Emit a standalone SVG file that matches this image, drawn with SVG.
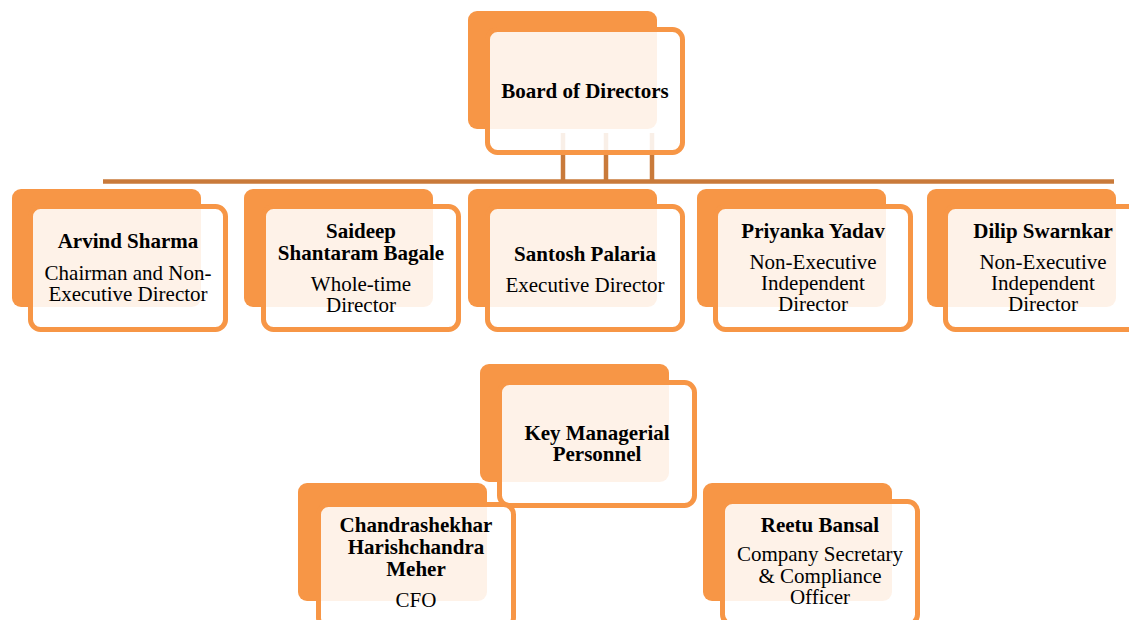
<svg xmlns="http://www.w3.org/2000/svg" width="1129" height="620" viewBox="0 0 1129 620">
<style>
.back{fill:#F79646;}
.front{fill:#FFFFFF;fill-opacity:0.88;stroke:#F79646;stroke-width:5;}
.conn{stroke:#C97A3A;stroke-width:4.5;fill:none;}
text{font-family:"Liberation Serif","Times New Roman",serif;font-size:21px;fill:#000;text-anchor:middle;}
.b{font-weight:bold;}
</style>
<rect width="1129" height="620" fill="#FFFFFF"/>
<g id="connectors">
<line class="conn" x1="103" y1="181.5" x2="1114" y2="181.5"/>
<line class="conn" x1="563" y1="133" x2="563" y2="181"/>
<line class="conn" x1="606" y1="133" x2="606" y2="181"/>
<line class="conn" x1="652" y1="133" x2="652" y2="181"/>
</g>
<g id="board">
<rect class="back" x="468" y="11" width="189" height="118" rx="9"/>
<rect class="front" x="487.5" y="29.5" width="195" height="123" rx="10"/>
<text class="b" x="585" y="98">Board of Directors</text>
</g>
<g id="arvind">
<rect class="back" x="12" y="189" width="189" height="118" rx="9"/>
<rect class="front" x="30.5" y="206.5" width="195" height="123" rx="10"/>
<text class="b" x="128" y="248">Arvind Sharma</text>
<text x="128" y="280">Chairman and Non-</text>
<text x="128" y="301">Executive Director</text>
</g>
<g id="saideep">
<rect class="back" x="244" y="189" width="189" height="118" rx="9"/>
<rect class="front" x="263.5" y="206.5" width="195" height="123" rx="10"/>
<text class="b" x="361" y="238">Saideep</text>
<text class="b" x="361" y="260">Shantaram Bagale</text>
<text x="361" y="291">Whole-time</text>
<text x="361" y="312">Director</text>
</g>
<g id="santosh">
<rect class="back" x="468" y="189" width="189" height="118" rx="9"/>
<rect class="front" x="487.5" y="206.5" width="195" height="123" rx="10"/>
<text class="b" x="585" y="261">Santosh Palaria</text>
<text x="585" y="292">Executive Director</text>
</g>
<g id="priyanka">
<rect class="back" x="697" y="189" width="189" height="118" rx="9"/>
<rect class="front" x="715.5" y="206.5" width="195" height="123" rx="10"/>
<text class="b" x="813" y="238">Priyanka Yadav</text>
<text x="813" y="269">Non-Executive</text>
<text x="813" y="290">Independent</text>
<text x="813" y="311">Director</text>
</g>
<g id="dilip">
<rect class="back" x="927" y="189" width="189" height="118" rx="9"/>
<rect class="front" x="945.5" y="206.5" width="195" height="123" rx="10"/>
<text class="b" x="1043" y="238">Dilip Swarnkar</text>
<text x="1043" y="269">Non-Executive</text>
<text x="1043" y="290">Independent</text>
<text x="1043" y="311">Director</text>
</g>
<g id="kmp">
<rect class="back" x="480" y="364" width="189" height="118" rx="9"/>
<rect class="front" x="499.5" y="382.5" width="195" height="123" rx="10"/>
<text class="b" x="597" y="440">Key Managerial</text>
<text class="b" x="597" y="461">Personnel</text>
</g>
<g id="chandrashekhar">
<rect class="back" x="298" y="483" width="189" height="118" rx="9"/>
<rect class="front" x="318.5" y="504.5" width="195" height="123" rx="10"/>
<text class="b" x="416" y="532">Chandrashekhar</text>
<text class="b" x="416" y="554">Harishchandra</text>
<text class="b" x="416" y="576">Meher</text>
<text x="416" y="607">CFO</text>
</g>
<g id="reetu">
<rect class="back" x="703" y="483" width="189" height="118" rx="9"/>
<rect class="front" x="722.5" y="501.5" width="195" height="123" rx="10"/>
<text class="b" x="820" y="532">Reetu Bansal</text>
<text x="820" y="561">Company Secretary</text>
<text x="820" y="583">&amp; Compliance</text>
<text x="820" y="604">Officer</text>
</g>
</svg>
